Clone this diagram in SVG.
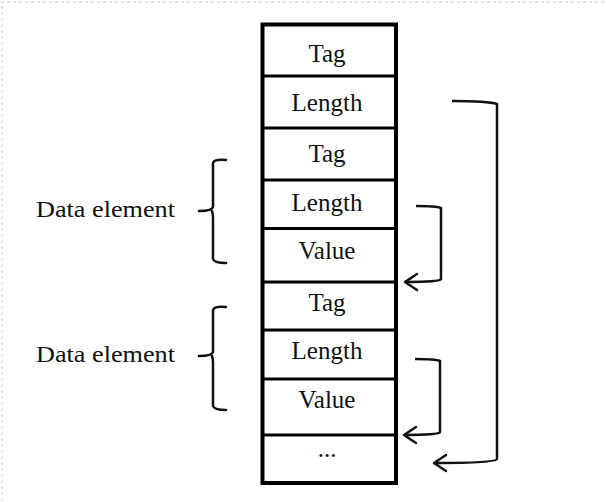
<svg xmlns="http://www.w3.org/2000/svg" width="606" height="502" viewBox="0 0 606 502">
  <style>
    .cell { font-family: "Liberation Serif", "Times New Roman", serif; font-size: 25px; fill: #111; text-anchor: middle; }
    .label { font-family: "Liberation Serif", "Times New Roman", serif; font-size: 24px; fill: #111; }
    .frame { fill: #fff; stroke: #000; stroke-width: 4; }
    .sep { stroke: #000; stroke-width: 3; }
    .brace { fill: none; stroke: #111; stroke-width: 2.5; stroke-linecap: round; stroke-linejoin: round; }
    .link { fill: none; stroke: #111; stroke-width: 2.5; stroke-linejoin: round; }
    .edge { fill: none; stroke: #e4e4e4; stroke-width: 2; stroke-dasharray: 3 3; }
  </style>
  <defs>
    <!-- open chevron, tip at the end of the path -->
    <marker id="chevron" viewBox="0 0 16 20" refX="14" refY="10" markerWidth="16" markerHeight="20" markerUnits="userSpaceOnUse" orient="auto">
      <path d="M2,2 L14,10 L2,18" fill="none" stroke="#111" stroke-width="2.5" stroke-linecap="round" stroke-linejoin="round"/>
    </marker>
  </defs>

  <rect width="606" height="502" fill="#fff"/>
  <!-- faint page edge -->
  <path class="edge" d="M2,501 L2,2 L606,2"/>

  <!-- TLV stack -->
  <g id="stack">
    <rect class="frame" x="262.5" y="24.5" width="133.5" height="458.5"/>
    <line class="sep" x1="262.5" y1="76" x2="396" y2="76"/>
    <line class="sep" x1="262.5" y1="128" x2="396" y2="128"/>
    <line class="sep" x1="262.5" y1="180" x2="396" y2="180"/>
    <line class="sep" x1="262.5" y1="228.5" x2="396" y2="228.5"/>
    <line class="sep" x1="262.5" y1="282" x2="396" y2="282"/>
    <line class="sep" x1="262.5" y1="330" x2="396" y2="330"/>
    <line class="sep" x1="262.5" y1="379" x2="396" y2="379"/>
    <line class="sep" x1="262.5" y1="435" x2="396" y2="435"/>
  </g>
  <g id="cell-tag-1"><text class="cell" x="327" y="62">Tag</text></g>
  <g id="cell-length-1"><text class="cell" x="327" y="111">Length</text></g>
  <g id="cell-tag-2"><text class="cell" x="327" y="162">Tag</text></g>
  <g id="cell-length-2"><text class="cell" x="327" y="211">Length</text></g>
  <g id="cell-value-2"><text class="cell" x="327" y="259">Value</text></g>
  <g id="cell-tag-3"><text class="cell" x="327" y="311">Tag</text></g>
  <g id="cell-length-3"><text class="cell" x="327" y="359">Length</text></g>
  <g id="cell-value-3"><text class="cell" x="327" y="408">Value</text></g>
  <g id="cell-more"><text class="cell" x="327" y="457">...</text></g>

  <!-- data element braces -->
  <g id="element-1">
    <text class="label" x="36" y="217" textLength="139" lengthAdjust="spacingAndGlyphs">Data element</text>
    <path class="brace" d="M226,160 Q214,159 213,163 L213,207 Q212,211 199,211 M212,211 Q213,214 213,218 L213,259 Q214,263 226,263"/>
  </g>
  <g id="element-2">
    <text class="label" x="36" y="362" textLength="139" lengthAdjust="spacingAndGlyphs">Data element</text>
    <path class="brace" d="M226,307 Q214,306 213,310 L213,352 Q212,356 199,356 M212,356 Q213,359 213,363 L213,406 Q214,410 226,410"/>
  </g>

  <!-- length pointers -->
  <g id="connectors">
    <path class="link" marker-end="url(#chevron)" d="M452,101 Q488,101 497,104 L497,459 Q496,463 434,463"/>
    <path class="link" marker-end="url(#chevron)" d="M416,206 Q436,206 441,208 L441,279 Q440,282 405,282"/>
    <path class="link" marker-end="url(#chevron)" d="M415,359 Q435,359 440,361 L440,432 Q439,435 404,435"/>
  </g>
</svg>
